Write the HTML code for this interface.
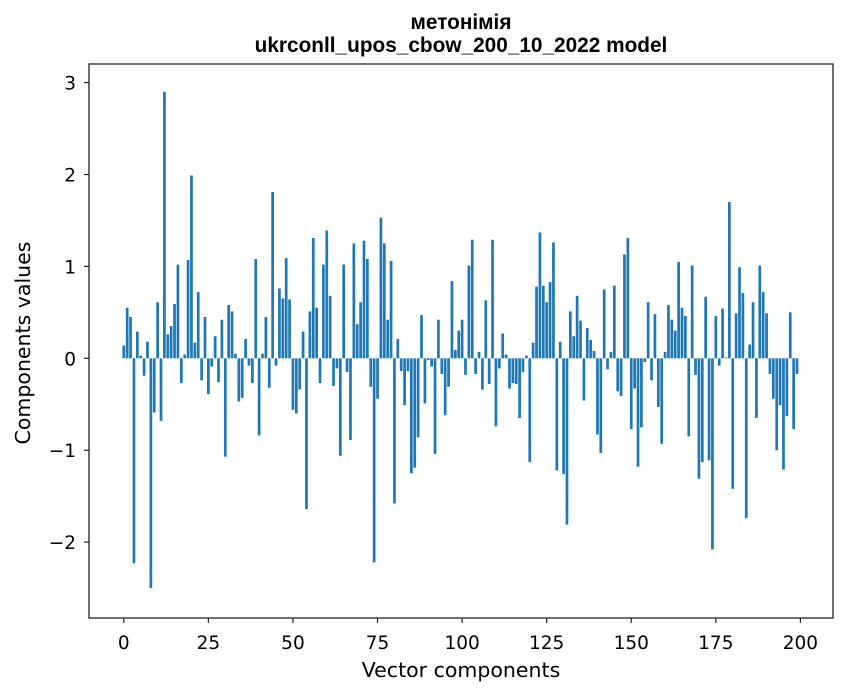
<!DOCTYPE html>
<html><head><meta charset="utf-8">
<style>
body{margin:0;background:#fff;}
svg{display:block;font-family:"DejaVu Sans","Liberation Sans",sans-serif;}
</style></head>
<body>
<svg id="chart" width="847" height="696" viewBox="0 0 847 696" xmlns="http://www.w3.org/2000/svg">
<rect width="847" height="696" fill="#fff"/>
<text x="461" y="29" text-anchor="middle" font-size="20.8" font-weight="bold" font-family="Liberation Sans, sans-serif">метонімія</text>
<text x="461" y="52" text-anchor="middle" font-size="20.8" font-weight="bold" font-family="Liberation Sans, sans-serif">ukrconll_upos_cbow_200_10_2022 model</text>
<g id="bars"></g>
<g id="axes"></g>
<text x="461" y="677" text-anchor="middle" font-size="20.5">Vector components</text>
<text transform="translate(30,343) rotate(-90)" text-anchor="middle" font-size="20.5">Components values</text>
</svg>
<script>
const values = [0.14,0.55,0.45,-2.23,0.29,0.03,-0.19,0.18,-2.5,-0.59,
0.61,-0.68,2.9,0.26,0.35,0.59,1.02,-0.27,0.04,1.07,
1.99,0.17,0.72,-0.24,0.45,-0.39,-0.09,0.24,-0.26,0.42,
-1.07,0.58,0.51,0.05,-0.47,-0.43,0.21,-0.08,-0.27,1.08,
-0.84,0.05,0.45,-0.32,1.81,-0.08,0.76,0.65,1.09,0.64,
-0.56,-0.6,-0.34,0.29,-1.64,0.51,1.31,0.55,-0.27,1.02,
1.39,0.68,-0.3,-0.11,-1.06,1.02,-0.15,-0.89,1.25,0.37,
0.61,1.28,1.08,-0.31,-2.22,-0.44,1.53,1.25,0.42,1.06,
-1.58,0.21,-0.14,-0.51,-0.14,-1.25,-1.19,-0.86,0.47,-0.49,
-0.02,-0.09,-1.04,0.42,-0.17,-0.62,-0.31,0.84,0.09,0.3,
0.42,-0.18,1.01,1.29,-0.17,0.07,-0.34,0.63,-0.28,1.29,
-0.74,-0.11,0.27,0.04,-0.33,-0.27,-0.28,-0.65,-0.15,0.03,
-1.13,0.17,0.78,1.37,0.79,0.61,0.83,1.26,-1.22,0.18,
-1.26,-1.81,0.51,0.24,0.68,0.41,-0.46,0.33,0.2,0.08,
-0.83,-1.03,0.75,-0.12,0.07,0.79,-0.36,-0.41,1.13,1.31,
-0.77,-0.33,-1.18,-0.75,-0.04,0.61,-0.24,0.48,-0.53,-0.93,
0.07,0.58,0.42,0.3,1.05,0.55,0.46,-0.85,1.01,-0.18,
-1.31,-1.13,0.67,-1.11,-2.08,0.46,-0.08,0.54,0.01,1.7,
-1.42,0.49,0.99,0.71,-1.74,0.15,0.61,-0.65,1.01,0.72,
0.49,-0.17,-0.44,-1.0,-0.51,-1.21,-0.63,0.5,-0.77,-0.17];
const xTicks = [0,25,50,75,100,125,150,175,200];
const yTicks = [-2,-1,0,1,2,3];
const yTickLabels = ["\u22122","\u22121","0","1","2","3"];

const NS="http://www.w3.org/2000/svg";
const L=89,R=833,T=64,B=618;
const xs=v=>123.8+v*3.383;
const ys=v=>358.3-v*91.9;
const bars=document.getElementById('bars');
values.forEach((v,i)=>{
  const r=document.createElementNS(NS,'rect');
  const y0=ys(Math.max(v,0)),y1=ys(Math.min(v,0));
  r.setAttribute('x',xs(i-0.4));r.setAttribute('width',0.8*3.383);
  r.setAttribute('y',y0);r.setAttribute('height',Math.max(y1-y0,0.01));
  r.setAttribute('fill','#1f77b4');
  
  
  bars.appendChild(r);
});
const ax=document.getElementById('axes');
const frame=document.createElementNS(NS,'rect');
frame.setAttribute('x',L);frame.setAttribute('y',T);frame.setAttribute('width',R-L);frame.setAttribute('height',B-T);
frame.setAttribute('fill','none');frame.setAttribute('stroke','#222');frame.setAttribute('stroke-width','1.3');


ax.appendChild(frame);
xTicks.forEach(t=>{
  const x=xs(t);
  const l=document.createElementNS(NS,'line');
  l.setAttribute('x1',x);l.setAttribute('x2',x);l.setAttribute('y1',B);l.setAttribute('y2',B+5);l.setAttribute('stroke','#222');l.setAttribute('stroke-width','1.2');
  
  
  ax.appendChild(l);
  const tx=document.createElementNS(NS,'text');
  tx.setAttribute('x',x);tx.setAttribute('y',B+31);tx.setAttribute('text-anchor','middle');tx.setAttribute('font-size','18.5');
  tx.textContent=t;
  
  
  ax.appendChild(tx);
});
yTicks.forEach((t,i)=>{
  const y=ys(t);
  const l=document.createElementNS(NS,'line');
  l.setAttribute('x1',L-5);l.setAttribute('x2',L);l.setAttribute('y1',y);l.setAttribute('y2',y);l.setAttribute('stroke','#222');l.setAttribute('stroke-width','1.2');
  
  
  ax.appendChild(l);
  const tx=document.createElementNS(NS,'text');
  tx.setAttribute('x',L-13);tx.setAttribute('y',y+7);tx.setAttribute('text-anchor','end');tx.setAttribute('font-size','18.5');
  tx.textContent=yTickLabels[i];
  
  
  ax.appendChild(tx);
});
</script>
</body></html>
